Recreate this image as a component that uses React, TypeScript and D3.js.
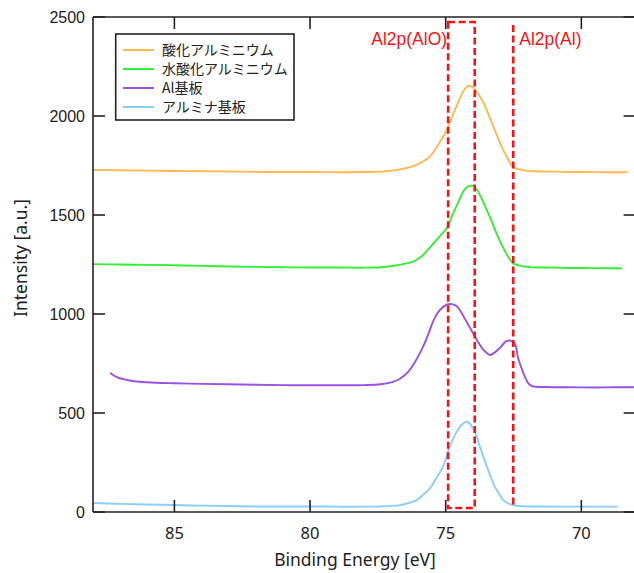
import React from "react";
import * as d3 from "d3";

type Pt = [number, number];

const seriesNames = ["酸化アルミニウム", "水酸化アルミニウム", "Al基板", "アルミナ基板"];
const seriesColors = ["#FFB84D", "#33EE33", "#9B4FE3", "#87CEFA"];

// [binding energy eV, intensity]
const aluminumOxide: Pt[] = [
  [88.0, 1727], [87.0, 1726], [86.0, 1724], [85.0, 1722], [84.0, 1721], [83.0, 1720],
  [82.0, 1718], [81.0, 1717], [80.0, 1717], [79.0, 1716], [78.0, 1717], [77.4, 1719],
  [76.8, 1727], [76.2, 1747], [75.9, 1766], [75.6, 1793], [75.3, 1850], [74.96, 1929],
  [74.75, 2000], [74.55, 2065], [74.35, 2125], [74.18, 2151], [74.0, 2145], [73.85, 2121],
  [73.6, 2065], [73.37, 1990], [73.15, 1915], [72.93, 1843], [72.7, 1782], [72.52, 1742],
  [72.2, 1728], [71.9, 1722], [71.0, 1719], [70.0, 1717], [69.0, 1716], [68.3, 1716],
];

const aluminumHydroxide: Pt[] = [
  [88.0, 1252], [87.0, 1250], [86.0, 1248], [85.0, 1246], [84.0, 1243], [83.0, 1240],
  [82.0, 1238], [81.0, 1236], [80.0, 1235], [79.0, 1235], [78.0, 1234], [77.4, 1236],
  [76.8, 1246], [76.2, 1264], [75.9, 1290], [75.6, 1333], [75.3, 1380], [74.96, 1434],
  [74.75, 1500], [74.55, 1560], [74.3, 1630], [74.1, 1648], [73.95, 1644], [73.74, 1601],
  [73.55, 1545], [73.37, 1490], [73.15, 1415], [72.93, 1348], [72.7, 1290], [72.52, 1257],
  [72.2, 1242], [71.9, 1237], [71.0, 1234], [70.0, 1232], [69.0, 1231], [68.5, 1230],
];

const aluminumPlate: Pt[] = [
  [87.37, 702], [87.1, 680], [86.6, 663], [86.0, 655], [85.0, 650], [84.0, 647],
  [83.0, 645], [82.0, 643], [81.0, 641], [80.0, 640], [79.0, 640], [78.0, 641],
  [77.4, 645], [77.0, 655], [76.7, 672], [76.4, 705], [76.2, 742], [76.0, 790],
  [75.84, 833], [75.65, 895], [75.47, 960], [75.3, 1005], [75.14, 1030], [74.95, 1048],
  [74.77, 1050], [74.6, 1040], [74.48, 1020], [74.3, 978], [74.1, 929], [73.85, 869],
  [73.6, 818], [73.37, 793], [73.2, 805], [73.0, 828], [72.75, 864], [72.5, 859],
  [72.4, 830], [72.34, 783], [72.2, 725], [72.08, 682], [71.95, 650], [71.82, 636],
  [71.27, 631], [70.5, 630], [69.5, 629], [68.8, 630], [68.06, 630],
];

const aluminaPlate: Pt[] = [
  [88.0, 45], [87.0, 41], [86.0, 38], [85.0, 35], [84.0, 32], [83.0, 30],
  [82.0, 28], [81.0, 28], [80.0, 28], [79.0, 27], [78.0, 27], [77.4, 28],
  [76.7, 35], [76.4, 44], [76.2, 52], [76.06, 61], [75.85, 85], [75.58, 120],
  [75.35, 170], [75.1, 229], [74.85, 330], [74.59, 406], [74.4, 442], [74.2, 456],
  [74.0, 424], [73.85, 380], [73.74, 330], [73.48, 229], [73.19, 128], [73.0, 85],
  [72.89, 61], [72.6, 38], [72.27, 30], [71.5, 28], [70.5, 27], [69.5, 27], [68.65, 27],
];

const allSeries: Pt[][] = [aluminumOxide, aluminumHydroxide, aluminumPlate, aluminaPlate];

const xTicks = [85, 80, 75, 70];
const yTicks = [0, 500, 1000, 1500, 2000, 2500];

const aloRange: [number, number] = [74.91, 73.93];
const alLine = 72.51;
const peakLabels = ["Al2p(AlO)", "Al2p(Al)"];

const W = 634;
const H = 573;
const left = 93;
const right = 635.6;
const top = 17;
const bottom = 512;

export default function App() {
  const x = d3.scaleLinear().domain([88, 68]).range([left, right]);
  const y = d3.scaleLinear().domain([0, 2500]).range([bottom, top]);
  const line = d3
    .line<Pt>()
    .x((d) => x(d[0]))
    .y((d) => y(d[1]))
    .curve(d3.curveCatmullRom.alpha(0.5));

  const axisColor = "#222";
  const tickLen = 12;
  const tickFont = "'Liberation Sans', Arial, sans-serif";
  const cjkFont = "'Noto Sans CJK JP', 'Noto Sans', sans-serif";

  return (
    <svg
      width={W}
      height={H}
      style={{ position: "absolute", left: 0, top: 0, background: "#fff" }}
    >
      <rect x={0} y={0} width={W} height={H} fill="#fff" />
      <defs>
        <clipPath id="plotclip">
          <rect x={left} y={top} width={right - left} height={bottom - top} />
        </clipPath>
      </defs>

      {/* series */}
      <g clipPath="url(#plotclip)">
        {allSeries.map((s, i) => (
          <path
            key={i}
            d={line(s) || ""}
            fill="none"
            stroke={seriesColors[i]}
            strokeWidth={1.9}
            strokeLinejoin="round"
          />
        ))}
      </g>

      {/* red dashed markers */}
      <rect
        x={x(aloRange[0])}
        y={22}
        width={x(aloRange[1]) - x(aloRange[0])}
        height={508 - 22}
        fill="none"
        stroke="#FF1010"
        strokeWidth={2.6}
        strokeDasharray="7,3.5"
      />
      <line
        x1={x(alLine)}
        x2={x(alLine)}
        y1={25}
        y2={507}
        stroke="#FF1010"
        strokeWidth={2.6}
        strokeDasharray="7,3.5"
      />
      <text
        x={x(aloRange[0]) - 1}
        y={45}
        textAnchor="end"
        fontFamily={tickFont}
        fontSize={17.5}
        fill="#FF1010"
      >
        {peakLabels[0]}
      </text>
      <text
        x={x(alLine) + 6}
        y={45}
        textAnchor="start"
        fontFamily={tickFont}
        fontSize={17.5}
        fill="#FF1010"
      >
        {peakLabels[1]}
      </text>

      {/* frame */}
      <g stroke={axisColor} strokeWidth={1.6} fill="none">
        <line x1={left} x2={left} y1={top} y2={bottom} />
        <line x1={left} x2={right} y1={bottom} y2={bottom} />
        <line x1={left} x2={right} y1={top} y2={top} />
        <line x1={right} x2={right} y1={top} y2={bottom} />
        {xTicks.map((t) => (
          <g key={"xt" + t}>
            <line x1={x(t)} x2={x(t)} y1={bottom} y2={bottom - tickLen} />
            <line x1={x(t)} x2={x(t)} y1={top} y2={top + tickLen} />
          </g>
        ))}
        {yTicks.map((t) => (
          <g key={"yt" + t}>
            <line x1={left} x2={left + tickLen} y1={y(t)} y2={y(t)} />
            <line x1={right} x2={right - tickLen} y1={y(t)} y2={y(t)} />
          </g>
        ))}
      </g>

      {/* tick labels */}
      {yTicks.map((t) => (
        <text
          key={"yl" + t}
          x={85}
          y={y(t)}
          dy="0.35em"
          textAnchor="end"
          fontFamily={tickFont}
          fontSize={16}
          fill="#222"
        >
          {t}
        </text>
      ))}
      {xTicks.map((t) => (
        <text
          key={"xl" + t}
          x={x(t)}
          y={539}
          textAnchor="middle"
          fontFamily="'Noto Sans', sans-serif"
          fontSize={16.5}
          fill="#222"
        >
          {t}
        </text>
      ))}

      {/* axis titles */}
      <text
        x={355}
        y={566}
        textAnchor="middle"
        fontFamily="'Noto Sans', sans-serif"
        fontSize={17.5}
        fill="#222"
      >
        Binding Energy [eV]
      </text>
      <text
        transform={`translate(27, 258) rotate(-90)`}
        textAnchor="middle"
        fontFamily="'Noto Sans', sans-serif"
        fontSize={17.5}
        fill="#222"
      >
        Intensity [a.u.]
      </text>

      {/* legend */}
      <rect
        x={115.7}
        y={34}
        width={294 - 115.7}
        height={120 - 34}
        fill="#fff"
        stroke="#222"
        strokeWidth={1.6}
      />
      {seriesNames.map((n, i) => (
        <g key={"lg" + i}>
          <line
            x1={123}
            x2={154}
            y1={50 + i * 19}
            y2={50 + i * 19}
            stroke={seriesColors[i]}
            strokeWidth={2}
          />
          <text
            x={162}
            y={50 + i * 19}
            dy="0.36em"
            fontFamily={cjkFont}
            fontSize={14}
            fill="#222"
          >
            {n}
          </text>
        </g>
      ))}
    </svg>
  );
}
